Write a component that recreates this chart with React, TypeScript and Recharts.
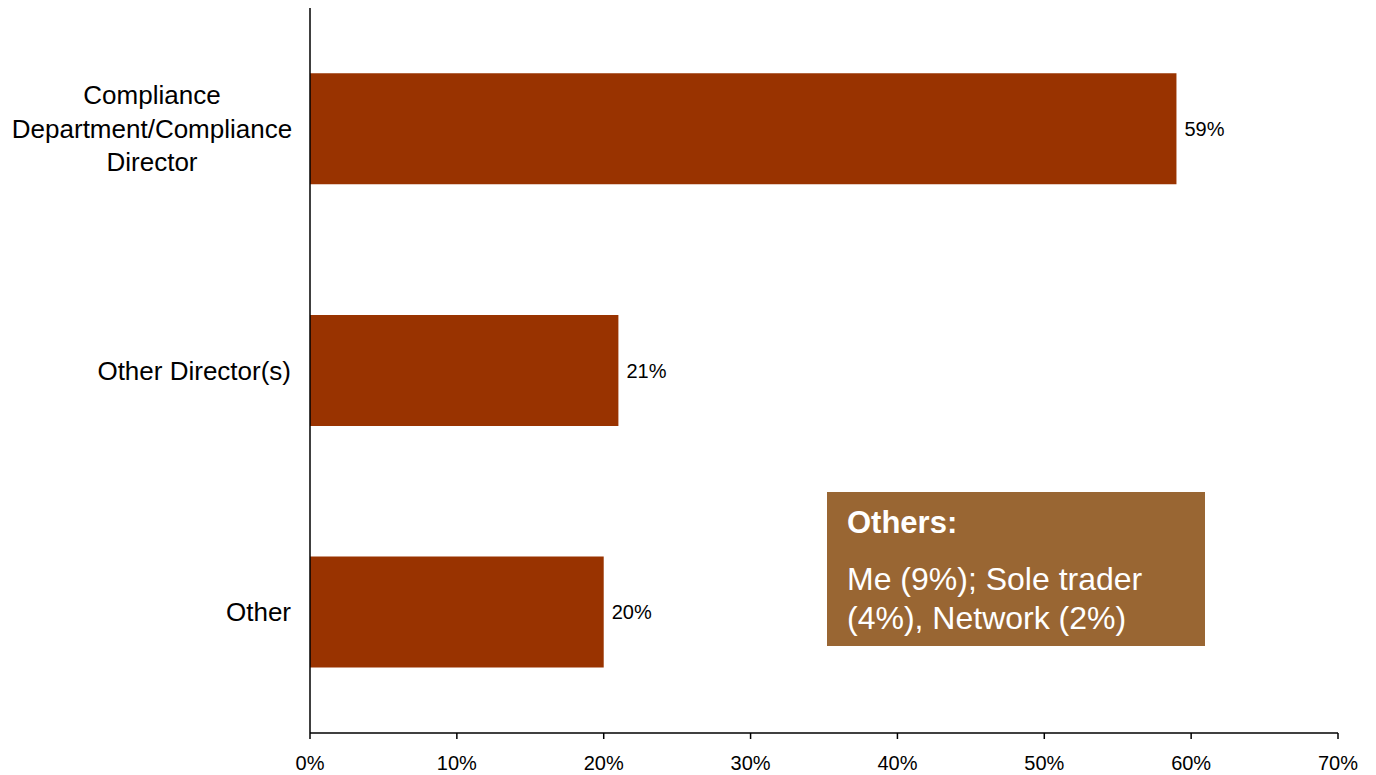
import { BarChart, Bar, XAxis, YAxis, LabelList } from "recharts";

const categories = [
  "Compliance\nDepartment/Compliance\nDirector",
  "Other Director(s)",
  "Other",
];
const shares = [59, 21, 20];
const xTicks = [0, 10, 20, 30, 40, 50, 60, 70];
const noteTitle = "Others:";
const noteLines = ["Me (9%); Sole trader", "(4%), Network (2%)"];

const data = categories.map((name, i) => ({ name, value: shares[i] }));

const FONT = "'Liberation Sans', Arial, Helvetica, sans-serif";

// category label: single lines right-aligned, multi-line block centred
function CategoryTick(props: any) {
  const { x, y, payload } = props;
  const lines = String(payload.value).split("\n");
  if (lines.length === 1) {
    return (
      <text x={x} y={y} dy="0.35em" textAnchor="end" fontSize={26} fill="#000" fontFamily={FONT}>
        {lines[0]}
      </text>
    );
  }
  const lineH = 33.5;
  const start = -((lines.length - 1) * lineH) / 2;
  return (
    <text x={x - 139} y={y} textAnchor="middle" fontSize={26} fill="#000" fontFamily={FONT}>
      {lines.map((l, i) => (
        <tspan key={i} x={x - 139} y={y + start + i * lineH} dy="0.35em">
          {l}
        </tspan>
      ))}
    </text>
  );
}

export default function App() {
  return (
    <div style={{ position: "absolute", left: 0, top: 0, width: 1376, height: 775, background: "#fff", fontFamily: FONT }}>
      <BarChart
        width={1376}
        height={775}
        data={data}
        layout="vertical"
        barCategoryGap="27%"
        margin={{ top: 8, right: 38, bottom: 0, left: 0 }}
      >
        <XAxis
          type="number"
          domain={[0, 70]}
          ticks={xTicks}
          tickFormatter={(v) => `${v}%`}
          height={42}
          tickSize={6}
          tickMargin={17}
          stroke="#000"
          strokeWidth={1.5}
          interval={0}
          tick={{ fontSize: 20, fill: "#000", fontFamily: FONT }}
        />
        <YAxis
          type="category"
          dataKey="name"
          width={310}
          tickLine={false}
          tickSize={0}
          tickMargin={19}
          stroke="#000"
          strokeWidth={1.5}
          interval={0}
          tick={<CategoryTick />}
        />
        <Bar dataKey="value" fill="#993300" isAnimationActive={false}>
          <LabelList
            dataKey="value"
            position="right"
            offset={8}
            formatter={(v: any) => `${v}%`}
            style={{ fontSize: 20, fill: "#000", fontFamily: FONT }}
          />
        </Bar>
      </BarChart>
      <div
        style={{
          position: "absolute",
          left: 827,
          top: 492,
          width: 378,
          height: 154,
          background: "#996633",
          color: "#fff",
          boxSizing: "border-box",
          padding: "12px 20px",
        }}
      >
        <div style={{ fontWeight: "bold", fontSize: 31, lineHeight: "38px" }}>{noteTitle}</div>
        <div style={{ fontSize: 32, lineHeight: "39px", marginTop: 18 }}>
          {noteLines.map((l, i) => (
            <div key={i}>{l}</div>
          ))}
        </div>
      </div>
    </div>
  );
}
